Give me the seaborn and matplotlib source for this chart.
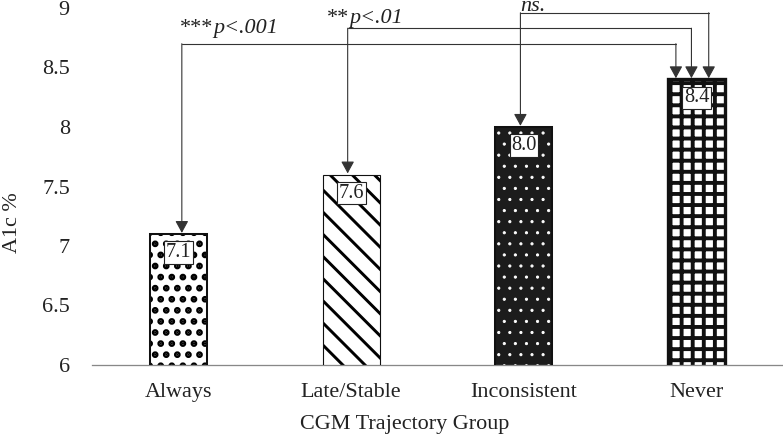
import numpy as np
import pandas as pd
import matplotlib
matplotlib.use("Agg")
import matplotlib.pyplot as plt
import seaborn as sns

# Data
groups = ["Always", "Late/Stable", "Inconsistent", "Never"]
a1c = [7.1, 7.6, 8.0, 8.4]
value_labels = ["7.1", "7.6", "8.0", "8.4"]

# comparisons of each group against "Never"
stars = ["***", "**", ""]
p_texts = ["p<.001", "p<.01", "ns."]

yticks = [6, 6.5, 7, 7.5, 8, 8.5, 9]
ytick_labels = ["6", "6.5", "7", "7.5", "8", "8.5", "9"]

df = pd.DataFrame({"group": groups, "a1c": a1c})

# Style
sns.set_style("white")
plt.rcParams["font.family"] = ["Liberation Serif", "DejaVu Serif"]
text_color = "#222222"

DPI = 133
fig = plt.figure(figsize=(783 / DPI, 446 / DPI), dpi=DPI)
ax = fig.add_axes([92 / 783, 1 - 365 / 446, 691 / 783, 357 / 446])

bar_width = 0.33
sns.barplot(data=df, x="group", y="a1c", ax=ax, width=bar_width,
            color="white", errorbar=None)

# Fill patterns for each bar
faces = ["white", "white", "#1c1c1c", "white"]
hatches = ["..", "\\\\", "..", "++"]
hatch_colors = ["black", "black", "white", "#111111"]
hatch_lws = [2.4, 1.6, 0.5, 2.1]
edge_lws = [1.1, 0.6, 1.1, 1.8]

for p, fc, h, hc, hlw in zip(ax.patches, faces, hatches, hatch_colors, hatch_lws):
    p.set_facecolor(fc)
    p.set_hatch(h)
    p.set_edgecolor(hc)
    p.set_linewidth(0)
    if hasattr(p, "set_hatch_linewidth"):
        p.set_hatch_linewidth(hlw)
    else:
        p._hatch_linewidth = hlw

# Outline on top of the hatched bars
xpos = np.arange(len(groups))
ax.bar(xpos, a1c, width=bar_width, fill=False, edgecolor="#111111",
       linewidth=edge_lws, zorder=3)

# Value labels in white boxes
for i, (v, lab) in enumerate(zip(a1c, value_labels)):
    ax.annotate(lab, xy=(i, v), xytext=(0, -10), textcoords="offset points",
                ha="center", va="center", fontsize=11, color=text_color, zorder=5,
                bbox=dict(boxstyle="square,pad=0.08", fc="white", ec="#222222", lw=0.6))

# Significance brackets (each group vs Never)
bracket_y = [8.70, 8.83, 8.96]
left_shift = [0.02, -0.02, -0.02]
right_x = [2.88, 2.97, 3.07]
label_x = [0.01, 0.86, 1.98]
label_y = [8.79, 8.87, 8.975]
line_kw = dict(color="#333333", lw=0.6)
arrow_kw = dict(arrowstyle="-|>,head_length=0.55,head_width=0.3", color="#333333",
                lw=0.6, shrinkA=0, shrinkB=0, mutation_scale=10)

for i in range(3):
    lx = i + left_shift[i]
    h = bracket_y[i]
    ax.plot([lx, right_x[i]], [h, h], clip_on=False, zorder=4, **line_kw)
    ax.annotate("", xy=(lx, a1c[i] + 0.01), xytext=(lx, h),
                arrowprops=arrow_kw, zorder=4, annotation_clip=False)
    ax.annotate("", xy=(right_x[i], a1c[3] + 0.01), xytext=(right_x[i], h),
                arrowprops=arrow_kw, zorder=4, annotation_clip=False)
    if stars[i]:
        # upright stars, then italic p-value right after them
        st = ax.text(label_x[i], label_y[i], stars[i], ha="left", va="baseline",
                     fontsize=12, color=text_color, clip_on=False)
        ax.annotate(p_texts[i], xy=(1, 0), xycoords=st, ha="left", va="bottom",
                    fontsize=12, style="italic", color=text_color,
                    annotation_clip=False)
    else:
        ax.text(label_x[i], label_y[i], p_texts[i], ha="left", va="baseline",
                fontsize=12, style="italic", color=text_color, clip_on=False)

# Axes
ax.set_xlim(-0.5, 3.5)
ax.set_ylim(6, 9)
ax.set_yticks(yticks)
ax.set_yticklabels(ytick_labels)
ax.tick_params(axis="both", length=0, labelsize=12, colors=text_color)
ax.tick_params(axis="x", pad=10)
ax.tick_params(axis="y", pad=12)
sns.despine(ax=ax, left=True)
ax.spines["bottom"].set_color("#888888")
ax.spines["bottom"].set_linewidth(0.7)

ax.set_xlabel("CGM Trajectory Group", fontsize=12, color=text_color)
ax.set_ylabel("A1c %", fontsize=12, color=text_color)
ax.xaxis.set_label_coords(0.453, -0.14)
ax.yaxis.set_label_coords(-0.102, 0.40)

fig.savefig("out.png", dpi=DPI)
